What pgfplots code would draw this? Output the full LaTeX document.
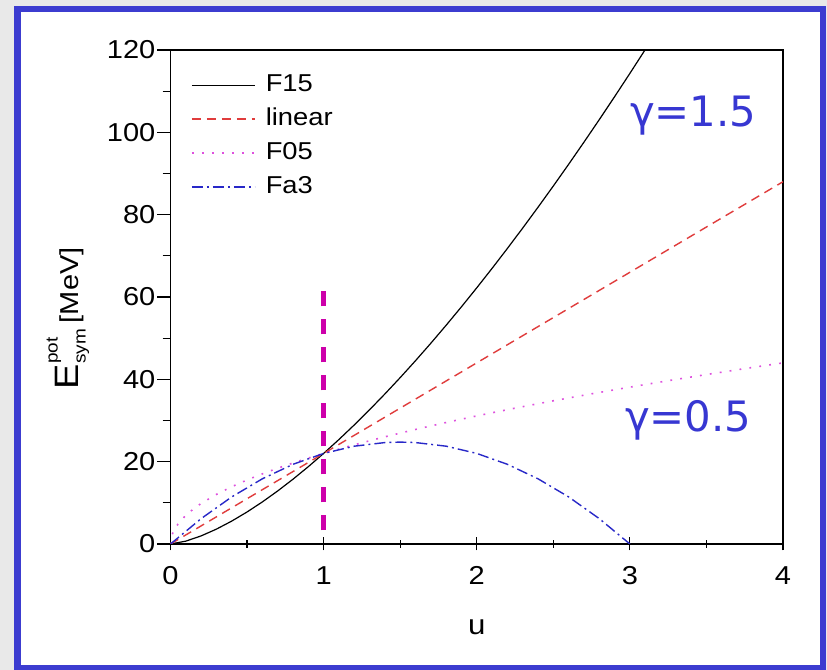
\documentclass[border=0pt]{standalone}
\usepackage{fontspec}
\setmainfont{Liberation Sans}[FakeStretch=1.12]
\newfontfamily\gammafont{DejaVu Sans}
\usepackage{pgfplots}
\pgfplotsset{compat=1.18}

\definecolor{bggray}{RGB}{233,233,233}
\definecolor{frameblue}{RGB}{60,60,208}
\definecolor{linred}{RGB}{224,60,60}
\definecolor{fmag}{RGB}{222,80,222}
\definecolor{fablue}{RGB}{40,40,200}
\definecolor{cutmag}{RGB}{205,0,170}
\definecolor{gblue}{RGB}{55,55,210}

\begin{document}
\begin{tikzpicture}[x=1bp,y=1bp]
\useasboundingbox (0,0) rectangle (827,670);
\fill[bggray] (0,0) rectangle (827,670);
\fill[white] (17.3,2) rectangle (823,661);
\draw[frameblue, line width=6.5bp] (17.3,2) rectangle (823,661);

\begin{axis}[
  at={(170.5bp,126bp)}, anchor=south west,
  scale only axis, width=612.5bp, height=494bp,
  xmin=0, xmax=4, ymin=0, ymax=120,
  xtick={0,1,2,3,4}, ytick={0,20,40,60,80,100,120},
  minor xtick={0.5,1.5,2.5,3.5},
  minor ytick={10,30,50,70,90,110},
  xtick pos=left, ytick pos=left,
  xtick align=center, ytick align=outside,
  major tick length=13bp, minor tick length=8bp,
  axis line style={line width=1.2bp},
  every tick/.style={black, line width=1.2bp},
  /pgf/number format/assume math mode=true,
  tick label style={font=\fontsize{26}{26}\selectfont},
  yticklabel style={anchor=east, inner sep=0pt, xshift=-2bp},
  xticklabel style={anchor=north, inner sep=0pt, yshift=-16bp},
  xlabel={u},
  xlabel style={font=\fontsize{28}{28}\selectfont, at={(axis description cs:0.5,0)}, anchor=center, yshift=-83bp},
  ylabel={{\fontsize{34}{34}\selectfont E}\makebox[0pt][l]{\raisebox{21bp}{\fontsize{17}{17}\selectfont pot}}\raisebox{-7bp}{\fontsize{17}{17}\selectfont sym}\hspace{6bp}[MeV]},
  ylabel style={font=\fontsize{26}{26}\selectfont, at={(axis description cs:0,0.457)}, anchor=center, yshift=102.5bp},
  legend style={at={(axis description cs:0,1)}, anchor=north west,
    xshift=17.5bp, yshift=-22bp, draw=none, fill=none,
    font=\fontsize{24.5}{24.5}\selectfont,
    nodes={inner sep=0pt, text height=17bp, text depth=5bp},
    row sep=12bp, column sep=10bp},
  legend cell align=left,
  legend image code/.code={\draw[#1] (0bp,0bp) -- (63bp,0bp);},
]

% F15: 22 u^1.5
\addplot[black, line width=1.2bp] coordinates {
 (0,0) (0.1,0.6957) (0.2,1.9677) (0.3,3.6150) (0.4,5.5656) (0.5,7.7782)
 (0.6,10.2247) (0.7,12.8846) (0.8,15.7419) (0.9,18.7839) (1.0,22)
 (1.1,25.3812) (1.2,28.9197) (1.3,32.6090) (1.4,36.4430) (1.5,40.4166)
 (1.6,44.5249) (1.7,48.7636) (1.8,53.1290) (1.9,57.6173) (2.0,62.2254)
 (2.1,66.9502) (2.2,71.7888) (2.3,76.7387) (2.4,81.7974) (2.5,86.9626)
 (2.6,92.2322) (2.7,97.6042) (2.8,103.0765) (2.9,108.6475) (3.0,114.3154)
 (3.1,120.0785) (3.2,125.935)};
\addlegendentry{F15}

% linear
\addplot[linred, line width=1.4bp, dash pattern=on 9bp off 6bp] coordinates {
 (0,0) (4,88)};
\addlegendentry{linear}

% F05: 22 u^0.5
\addplot[fmag, line width=1.6bp, dash pattern=on 1.8bp off 8.2bp] coordinates {
 (0,0) (0.01,2.2) (0.02,3.1113) (0.05,4.9193) (0.1,6.9570) (0.15,8.5206)
 (0.2,9.8387) (0.3,12.0499) (0.4,13.9140) (0.5,15.5563) (0.6,17.0411)
 (0.7,18.4065) (0.8,19.6774) (0.9,20.8710) (1.0,22) (1.2,24.0998)
 (1.4,26.0308) (1.6,27.8280) (1.8,29.5161) (2.0,31.1127) (2.25,33)
 (2.5,34.7851) (2.75,36.4829) (3.0,38.1051) (3.25,39.6611) (3.5,41.1582)
 (3.75,42.6028) (4.0,44)};
\addlegendentry{F05}

% Fa3
\addplot[fablue, line width=1.4bp, dash pattern=on 11bp off 4bp on 2bp off 4bp] coordinates {
 (0,0) (0.2,6.16) (0.4,11.44) (0.6,15.84) (0.8,19.36) (1.0,22)
 (1.2,23.76) (1.4,24.64) (1.5,24.75) (1.6,24.64) (1.8,23.76) (2.0,22)
 (2.2,19.36) (2.4,15.84) (2.6,11.44) (2.8,6.16) (3.0,0)};
\addlegendentry{Fa3}

% saturation density marker
\addplot[cutmag, line width=4.5bp, dash pattern=on 15bp off 13bp, forget plot] coordinates {
 (1,3.3) (1,61.8)};

\node[anchor=base west, inner sep=0pt, text=gblue, font=\gammafont\fontsize{42}{42}\selectfont]
  at (axis cs:3.0,101.3) {γ=1.5};
\node[anchor=base west, inner sep=0pt, text=gblue, font=\gammafont\fontsize{42}{42}\selectfont]
  at (axis cs:2.967,27.4) {γ=0.5};
\end{axis}
\end{tikzpicture}
\end{document}
